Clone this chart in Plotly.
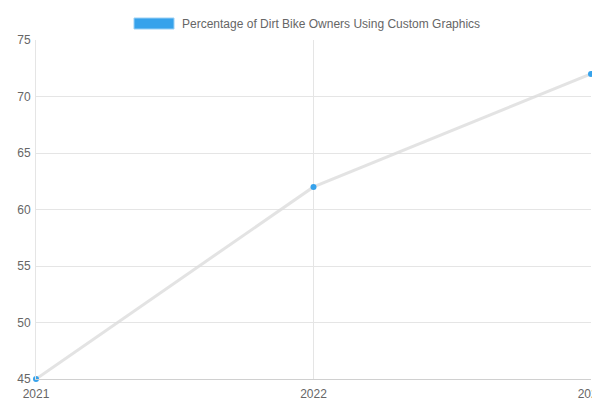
import plotly.graph_objects as go

years = ["2021", "2022", "2023"]
values = [45, 62, 72]
label = "Percentage of Dirt Bike Owners Using Custom Graphics"

fig = go.Figure()
fig.add_trace(go.Scatter(
    x=[int(y) for y in years], y=values, mode="lines+markers",
    line=dict(color="rgba(220,220,220,0.8)", width=3),
    marker=dict(color="#36a2eb", size=6, line=dict(color="#36a2eb", width=0)),
    showlegend=False, cliponaxis=False,
))
fig.add_shape(type="rect", xref="paper", yref="paper",
              x0=(126-28)/555, x1=(166-28)/555, y0=(371-21)/339, y1=(371-10)/339,
              fillcolor="#36a2eb", line=dict(color="#9ad0f5", width=1))
fig.add_annotation(text=label, xref="paper", yref="paper",
                   x=(172-28)/555, y=(371-15.5)/339, xanchor="left", yanchor="middle",
                   showarrow=False, font=dict(size=12, color="#666"))
fig.update_layout(
    width=600, height=400, margin=dict(l=28, r=17, t=32, b=29),
    plot_bgcolor="white", paper_bgcolor="white",
    font=dict(family="Liberation Sans, Arial", size=12, color="#666"),
    xaxis=dict(range=[2021, 2023], tickvals=[int(y) for y in years], ticktext=years,
               showgrid=True, gridcolor="#e5e5e5", zeroline=False, automargin=False,
               showline=True, linecolor="#d0d0d0", ticks="", ticklabelstandoff=4),
    yaxis=dict(range=[45, 75], dtick=5, showgrid=True, gridcolor="#e5e5e5",
               zeroline=False, showline=True, linecolor="#e5e5e5", ticks="",
               automargin=False, ticklabelstandoff=2),
)
fig.write_html("out.html")
